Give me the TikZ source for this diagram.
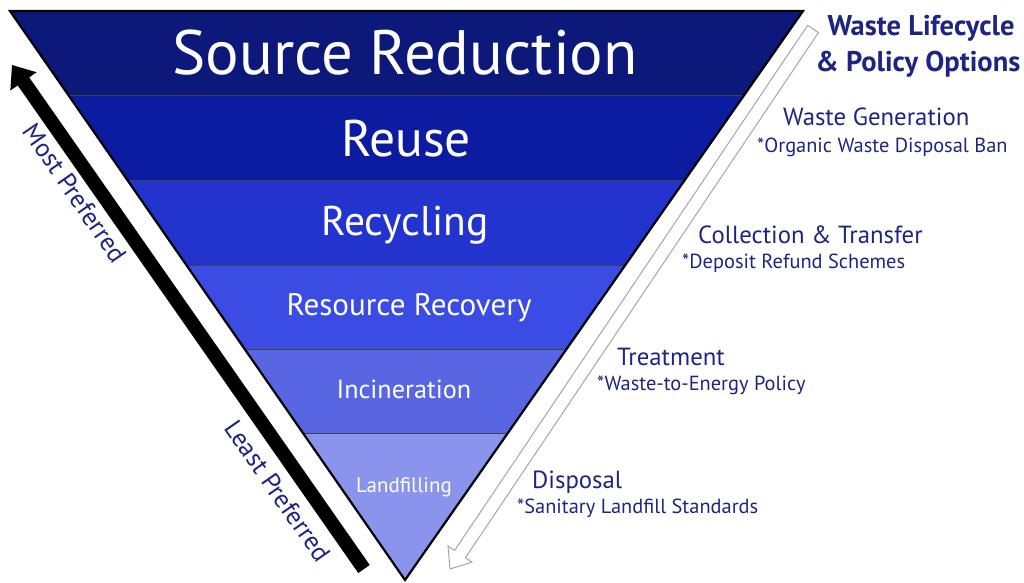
\documentclass[tikz,border=0pt]{standalone}
\usepackage{fontspec}
\setmainfont{PT Sans}
\usetikzlibrary{arrows.meta, calc}

\definecolor{lvlA}{RGB}{12,24,122}
\definecolor{lvlB}{RGB}{12,28,160}
\definecolor{lvlC}{RGB}{34,52,205}
\definecolor{lvlD}{RGB}{58,76,227}
\definecolor{lvlE}{RGB}{88,102,228}
\definecolor{lvlF}{RGB}{138,148,236}
\definecolor{navytxt}{RGB}{30,36,130}

\tikzset{
    level/.style={text=white, anchor=base, inner sep=0pt},
    stagelbl/.style={text=navytxt, anchor=base west, inner sep=0pt, font=\fontsize{24.8}{28}\selectfont},
    policylbl/.style={text=navytxt, anchor=base west, inner sep=0pt, font=\fontsize{20.4}{24}\selectfont},
    preflbl/.style={text=navytxt, inner sep=0pt, rotate=-55.2, font=\fontsize{25.8}{30}\selectfont},
    headlbl/.style={text=navytxt, anchor=base, inner sep=0pt, font=\bfseries\fontsize{28.5}{32}\selectfont},
}

\begin{document}
\begin{tikzpicture}[x=1pt, y=-1pt]
        \useasboundingbox (0,0) rectangle (1024,582);
        \coordinate (tl) at (10,11);
        \coordinate (tr) at (803,11);
        \coordinate (ap) at (405,580);

        \begin{scope}
            \clip (tl) -- (tr) -- (ap) -- cycle;
            \fill[lvlA] (0,0) rectangle (1024,95);
            \fill[lvlB] (0,95) rectangle (1024,180);
            \fill[lvlC] (0,180) rectangle (1024,265);
            \fill[lvlD] (0,265) rectangle (1024,349);
            \fill[lvlE] (0,349) rectangle (1024,433);
            \fill[lvlF] (0,433) rectangle (1024,582);
            \draw[black!75, line width=0.7pt] (0,95) -- (1024,95) (0,180) -- (1024,180)
                (0,265) -- (1024,265) (0,349) -- (1024,349) (0,433) -- (1024,433);
        \end{scope}
        \draw[line width=2.2pt] (tl) -- (tr) -- (ap) -- cycle;

        \node[level, font=\fontsize{62.7}{72}\selectfont] (srcred) at (405,74) {Source Reduction};
        \node[level, font=\fontsize{51.5}{60}\selectfont] (reuse) at (406,156) {Reuse};
        \node[level, font=\fontsize{41.5}{50}\selectfont] (recyc) at (405,235) {Recycling};
        \node[level, font=\fontsize{31.1}{36}\selectfont] (resrec) at (409,315) {Resource Recovery};
        \node[level, font=\fontsize{26.2}{30}\selectfont] (incin) at (404,398) {Incineration};
        \node[level, font=\fontsize{21}{25}\selectfont] (landf) at (404,492) {Landfilling};

        % preference arrow
        \coordinate (mpb) at (364,569);
        \coordinate (mpt) at (12,65);
        \coordinate (mph) at ($(mpt)!20pt!(mpb)$);
        \fill ($(mpb)!7pt!90:(mpt)$) -- ($(mph)!7pt!90:(mpt)$) -- ($(mph)!16pt!90:(mpt)$) -- (mpt)
            -- ($(mph)!16pt!-90:(mpt)$) -- ($(mph)!7pt!-90:(mpt)$) -- ($(mpb)!7pt!-90:(mpt)$) -- cycle;
        \node[preflbl] (most) at (75,193) {Most Preferred};
        \node[preflbl] (least) at (278,491) {Least Preferred};

        % lifecycle arrow
        \coordinate (lct) at (813,29);
        \coordinate (lcb) at (450,569);
        \coordinate (lch) at ($(lcb)!18pt!(lct)$);
        \draw[gray!70, line width=1pt, fill=white] ($(lct)!6.5pt!90:(lcb)$) -- ($(lch)!6.5pt!-90:(lct)$)
            -- ($(lch)!14.5pt!-90:(lct)$) -- (lcb) -- ($(lch)!14.5pt!90:(lct)$) -- ($(lch)!6.5pt!90:(lct)$)
            -- ($(lct)!6.5pt!-90:(lcb)$) -- cycle;

        \node[headlbl] (lc1) at (921,35) {Waste Lifecycle};
        \node[headlbl] (lc2) at (918,71) {\& Policy Options};

        \node[stagelbl] (gen) at (783,125) {Waste Generation};
        \node[policylbl] (genp) at (757,152) {*Organic Waste Disposal Ban};
        \node[stagelbl] (coll) at (698,243) {Collection \& Transfer};
        \node[policylbl] (collp) at (682,268) {*Deposit Refund Schemes};
        \node[stagelbl] (treat) at (617,365) {Treatment};
        \node[policylbl] (treatp) at (597,390) {*Waste-to-Energy Policy};
        \node[stagelbl] (disp) at (532,488) {Disposal};
        \node[policylbl] (dispp) at (517,513) {*Sanitary Landfill Standards};
\end{tikzpicture}
\end{document}
